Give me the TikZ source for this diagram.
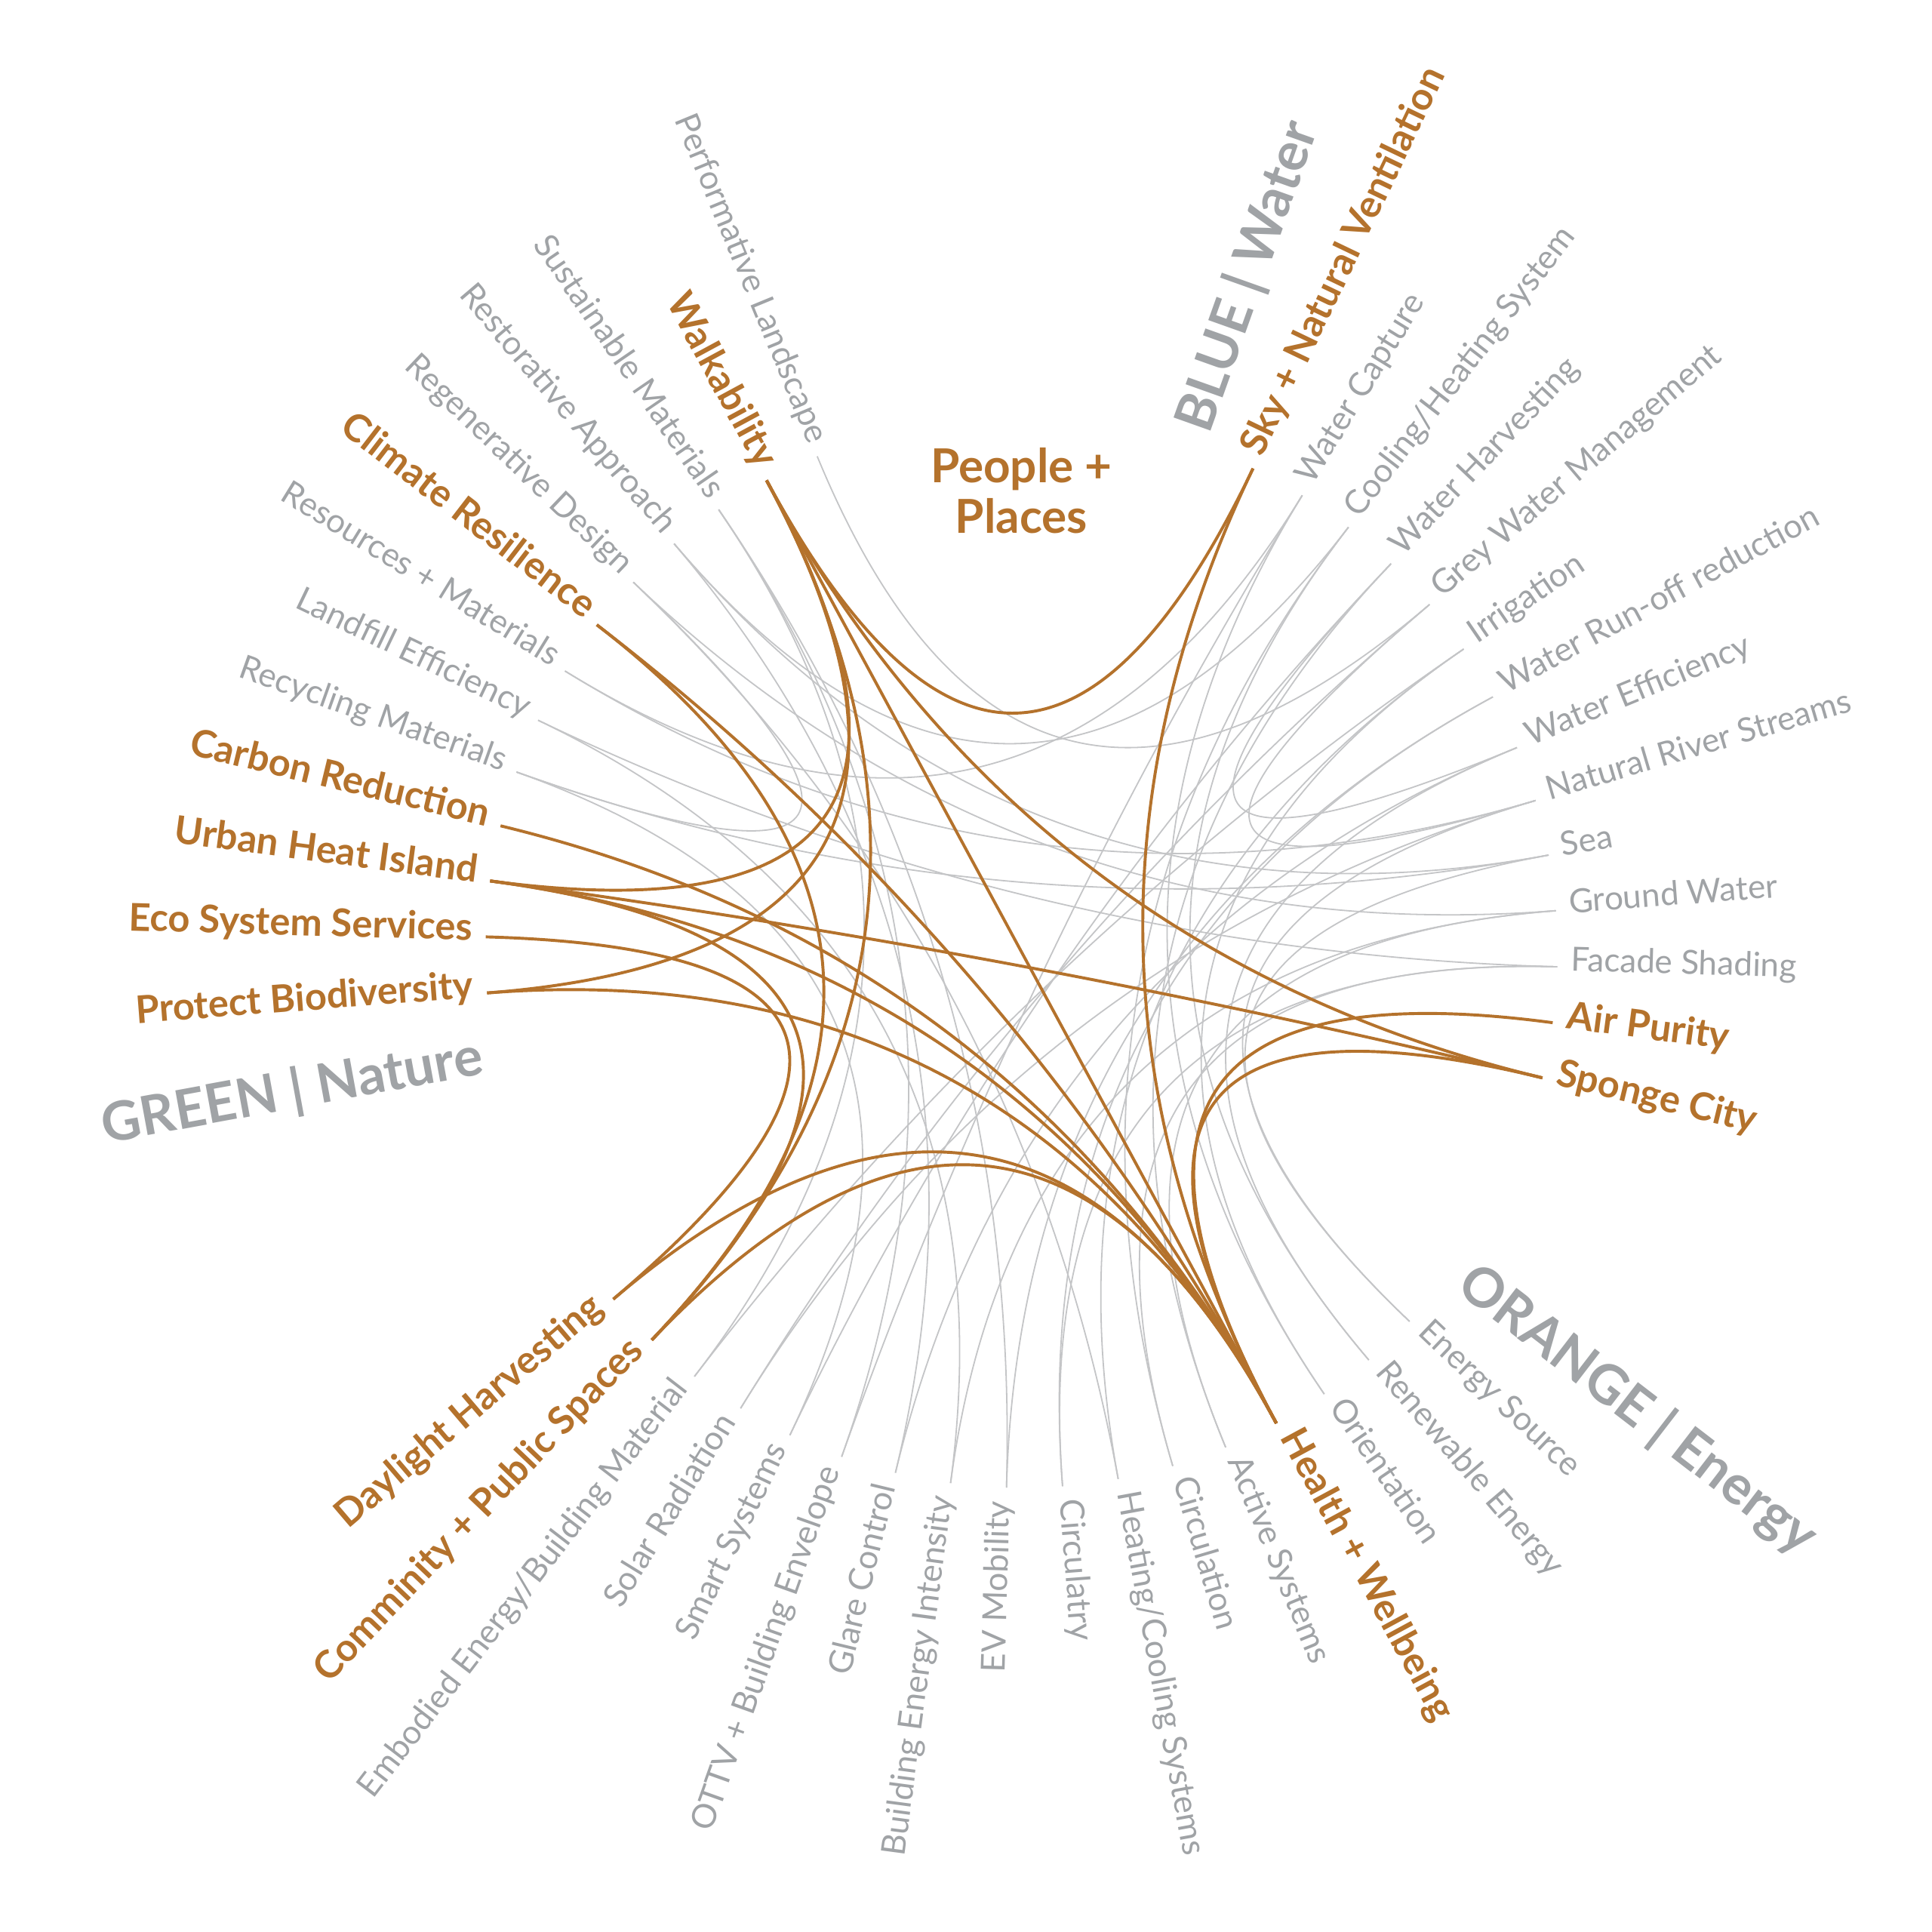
\documentclass[tikz,border=0pt]{standalone}
\usepackage{fontspec}
\setmainfont{Lato}
\definecolor{org}{RGB}{180,114,44}
\definecolor{gtext}{RGB}{160,163,166}
\definecolor{gline}{RGB}{196,197,199}
\newcommand{\myrlab}[3]{\node[#2, anchor=west, rotate={112.4-6*#1}] (L#1) at ({112.4-6*#1}:446) {#3};}
\newcommand{\myllab}[3]{\node[#2, anchor=east, rotate={292.4-6*#1}] (L#1) at ({112.4-6*#1}:446) {#3};}
\begin{document}
\begin{tikzpicture}[x=1pt,y=1pt,
  glbl/.style={text=gtext, font=\fontsize{27}{29}\selectfont, inner sep=0pt, text height=0.6em, text depth=0pt},
  olbl/.style={text=org, font=\fontsize{31}{33}\selectfont\bfseries, inner sep=0pt, text height=0.6em, text depth=0pt},
  biglbl/.style={text=gtext, font=\fontsize{44}{46}\selectfont\bfseries, inner sep=0pt, text height=0.6em, text depth=0pt},
  pplbl/.style={text=org, font=\fontsize{38}{40}\selectfont\bfseries, inner sep=0pt, anchor=base},
  gcurve/.style={draw=gline, line width=1.1pt},
  ocurve/.style={draw=org, line width=2.4pt},
]
\useasboundingbox (-829,-795.5) rectangle (739,772.5);
\fill[white] (-829,-795.5) rectangle (739,772.5);
\foreach \n in {0,...,59} {
  \coordinate (p\n) at ({112.4-6*\n}:435);
  \coordinate (c\n) at ({112.4-6*\n}:145);
}
% gray connectors
\foreach \a/\b in {0/12, 58/40, 58/34, 57/17, 57/36, 56/18, 56/52, 56/32, 54/16, 54/9,
  53/19, 53/35, 52/17, 52/38, 9/37, 9/28, 10/31, 10/27, 10/57, 11/15, 11/30, 11/38,
  12/16, 12/39, 13/40, 13/28, 14/34, 14/33, 15/27, 15/36, 16/39, 16/26, 17/26,
  18/35, 18/30, 19/33, 19/31, 37/58, 32/13}
  \draw[gcurve] (p\a) .. controls (c\a) and (c\b) .. (p\b);
% orange connectors
\foreach \a/\b in {59/8, 59/29, 59/21, 59/41, 59/50, 59/48, 8/29, 55/29, 55/41, 51/29,
  50/21, 50/29, 50/41, 49/42, 48/29, 42/29, 41/29, 20/29, 21/29}
  \draw[ocurve] (p\a) .. controls (c\a) and (c\b) .. (p\b);
% right side labels
\myrlab{7}{biglbl}{BLUE | Water}
\myrlab{8}{olbl}{Sky + Natural Ventilation}
\myrlab{9}{glbl}{Water Capture}
\myrlab{10}{glbl}{Cooling/Heating System}
\myrlab{11}{glbl}{Water Harvesting}
\myrlab{12}{glbl}{Grey Water Management}
\myrlab{13}{glbl}{Irrigation}
\myrlab{14}{glbl}{Water Run-off reduction}
\myrlab{15}{glbl}{Water Efficiency}
\myrlab{16}{glbl}{Natural River Streams}
\myrlab{17}{glbl}{Sea}
\myrlab{18}{glbl}{Ground Water}
\myrlab{19}{glbl}{Facade Shading}
\myrlab{20}{olbl}{Air Purity}
\myrlab{21}{olbl}{Sponge City}
\myrlab{25}{biglbl}{ORANGE | Energy}
\myrlab{26}{glbl}{Energy Source}
\myrlab{27}{glbl}{Renewable Energy}
\myrlab{28}{glbl}{Orientation}
\myrlab{29}{olbl}{Health + Wellbeing}
\myrlab{30}{glbl}{Active Systems}
\myrlab{31}{glbl}{Circulation}
\myrlab{32}{glbl}{Heating/Cooling Systems}
\myrlab{33}{glbl}{Circulatry}
% left side labels
\myllab{34}{glbl}{EV Mobility}
\myllab{35}{glbl}{Building Energy Intensity}
\myllab{36}{glbl}{Glare Control}
\myllab{37}{glbl}{OTTV + Building Envelope}
\myllab{38}{glbl}{Smart Systems}
\myllab{39}{glbl}{Solar Radiation}
\myllab{40}{glbl}{Embodied Energy/Building Material}
\myllab{41}{olbl}{Comminity + Public Spaces}
\myllab{42}{olbl}{Daylight Harvesting}
\node[biglbl, anchor=east, rotate={292.4-6*47}, yshift=-4] (L47) at ({112.4-6*47+1.5}:446) {GREEN | Nature};
\myllab{48}{olbl}{Protect Biodiversity}
\myllab{49}{olbl}{Eco System Services}
\myllab{50}{olbl}{Urban Heat Island}
\myllab{51}{olbl}{Carbon Reduction}
\myllab{52}{glbl}{Recycling Materials}
\myllab{53}{glbl}{Landfill Efficiency}
\myllab{54}{glbl}{Resources + Materials}
\myllab{55}{olbl}{Climate Resilience}
\myllab{56}{glbl}{Regenerative Design}
\myllab{57}{glbl}{Restorative Approach}
\myllab{58}{glbl}{Sustainable Materials}
\myllab{59}{olbl}{Walkability}
\myllab{0}{glbl}{Performative Landscape}
% centre title
\node[pplbl] (pp1) at (0,380.5) {People +};
\node[pplbl] (pp2) at (0,339.5) {Places};
\end{tikzpicture}
\end{document}
